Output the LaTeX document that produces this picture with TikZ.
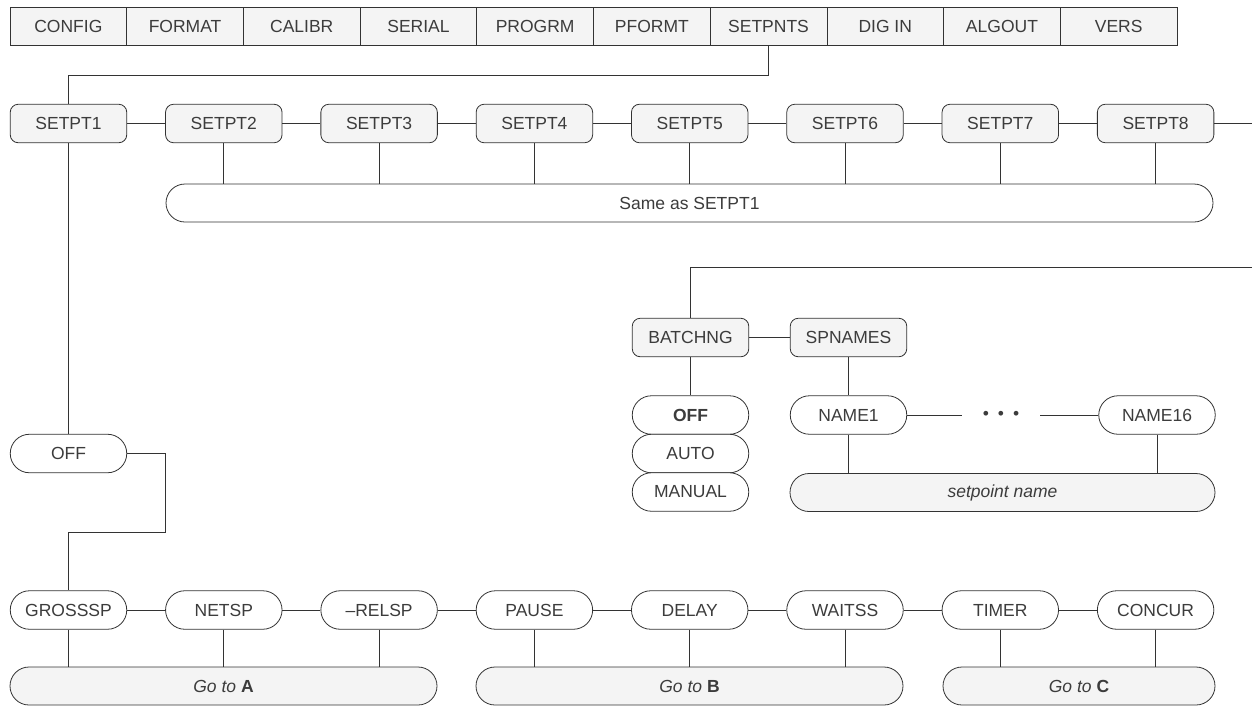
\documentclass[tikz,border=0pt]{standalone}
\usepackage{fontspec}
\setmainfont{Liberation Sans}
\usetikzlibrary{shapes.misc}
\definecolor{ink}{HTML}{333333}
\definecolor{txt}{HTML}{3C3C3C}
\definecolor{lightfill}{HTML}{F4F4F4}
\begin{document}
\begin{tikzpicture}[x=1pt,y=-1pt,
  every node/.style={font=\fontsize{17.5}{19}\selectfont, text=txt, inner sep=0pt},
  menubox/.style={draw=ink, line width=0.8pt, fill=lightfill, rectangle, minimum width=116.7pt, minimum height=38.5pt},
  sbox/.style={draw=ink, line width=0.8pt, fill=lightfill, rounded corners=8pt, minimum width=116.5pt, minimum height=38.5pt},
  pill/.style={draw=ink, line width=0.8pt, fill=white, rounded rectangle, minimum width=116.5pt, minimum height=38.5pt},
  bar/.style={draw=ink, line width=0.8pt, fill=lightfill, rounded rectangle, minimum height=38pt},
  wbar/.style={bar, fill=white},
  conn/.style={draw=ink, line width=0.8pt}
]
\useasboundingbox (0,0) rectangle (1252,705);
% top menu
\foreach \t [count=\i from 0] in {CONFIG,FORMAT,CALIBR,SERIAL,PROGRM,PFORMT,SETPNTS,DIG IN,ALGOUT,VERS}{
  \node[menubox] (m\i) at ({10+116.7*(\i+0.5)},26.5) {\t};
}
% setpoint row
\foreach \k in {1,...,8}{
  \node[sbox] (sp\k) at ({68.5+155.3*(\k-1)},123.5) {SETPT\k};
}
\node[wbar, minimum width=1047pt] (same) at (689.5,203) {Same as SETPT1};
\coordinate (j1) at (767,75);
\coordinate (spend) at (1252,123.5);
\draw[conn] (m6.south) -- (m6.south |- j1) -| (sp1.north);
\foreach \a/\b in {1/2,2/3,3/4,4/5,5/6,6/7,7/8}{
  \draw[conn] (sp\a.east) -- (sp\b.west);
}
\draw[conn] (sp8.east) -- (spend);
\foreach \k in {2,...,8}{
  \draw[conn] (sp\k.south) -- (sp\k.south |- same.north);
}
% OFF
\node[pill] (off) at (68.5,453.5) {OFF};
\draw[conn] (sp1.south) -- (off.north);
\coordinate (j2) at (165,532);
% bottom row
\foreach \t [count=\k from 1] in {GROSSSP,NETSP,--RELSP,PAUSE,DELAY,WAITSS,TIMER,CONCUR}{
  \node[pill] (g\k) at ({68.5+155.3*(\k-1)},610) {\t};
}
\draw[conn] (off.east) -| (j2) -| (g1.north);
\foreach \a/\b in {1/2,2/3,3/4,4/5,5/6,6/7,7/8}{
  \draw[conn] (g\a.east) -- (g\b.west);
}
\node[bar, minimum width=427pt] (goA) at (223.5,686) {\textit{Go to} \textbf{A}};
\node[bar, minimum width=427pt] (goB) at (689.5,686) {\textit{Go to} \textbf{B}};
\node[bar, minimum width=272pt] (goC) at (1079,686) {\textit{Go to} \textbf{C}};
\foreach \k in {1,2,3}{\draw[conn] (g\k.south) -- (g\k.south |- goA.north);}
\foreach \k in {4,5,6}{\draw[conn] (g\k.south) -- (g\k.south |- goB.north);}
\foreach \k in {7,8}{\draw[conn] (g\k.south) -- (g\k.south |- goC.north);}
% batching
\coordinate (j3) at (1252,267);
\node[sbox] (bat) at (690.5,337.5) {BATCHNG};
\node[sbox] (spn) at (848.5,337.5) {SPNAMES};
\draw[conn] (j3) -| (bat.north);
\draw[conn] (bat.east) -- (spn.west);
\node[pill] (boff) at (690.5,415) {\textbf{OFF}};
\node[pill] (bauto) at (690.5,453.5) {AUTO};
\node[pill] (bman) at (690.5,492) {MANUAL};
\draw[conn] (bat.south) -- (boff.north);
\node[pill] (n1) at (848.5,415) {NAME1};
\node[pill] (n16) at (1157,415) {NAME16};
\node[minimum width=78pt, minimum height=10pt] (dots) at (1001,415) {\raisebox{-6pt}{•\hspace{9pt}•\hspace{9pt}•}};
\draw[conn] (spn.south) -- (n1.north);
\draw[conn] (n1.east) -- (dots.west);
\draw[conn] (dots.east) -- (n16.west);
\node[bar, minimum width=425pt] (spname) at (1002.5,492.5) {\textit{setpoint name}};
\draw[conn] (n1.south) -- (n1.south |- spname.north);
\draw[conn] (n16.south) -- (n16.south |- spname.north);
\end{tikzpicture}
\end{document}
